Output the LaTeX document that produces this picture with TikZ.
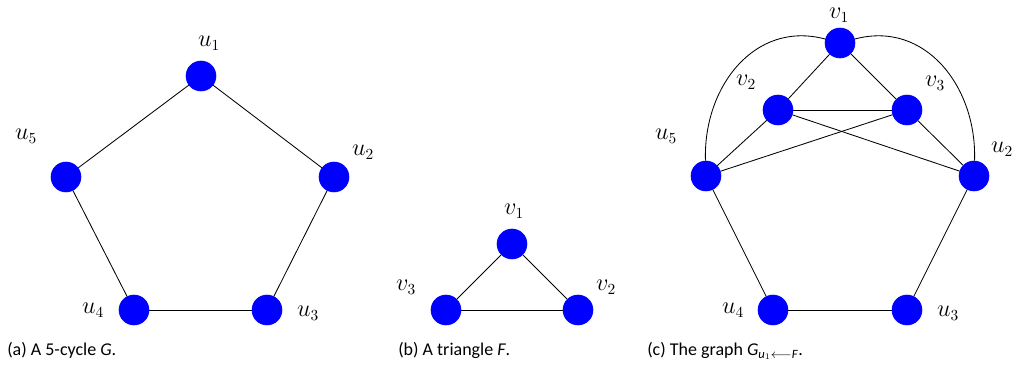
\documentclass[tikz,border=0pt]{standalone}
\usepackage{fontspec}
\setmainfont{Carlito}
\usepackage{amsmath}
\usetikzlibrary{positioning}
\tikzstyle{vertex}  = [draw=blue, fill=blue, circle, minimum size=0.75cm, inner sep=0pt]
\tikzstyle{edge}    = [semithick]
\tikzstyle{vlabel}  = [inner sep=0pt, font=\fontsize{16}{18}\selectfont]
\tikzstyle{caption} = [inner sep=0pt, anchor=base west, font=\fontsize{12.8}{14}\selectfont]

\begin{document}
\begin{tikzpicture}[x=0.025cm, y=-0.025cm]
\useasboundingbox (0,0) rectangle (1012,365);

% (a) 5-cycle
\node[vertex] (a1) at (201,76) {};
\node[vertex] (a2) at (334,177) {};
\node[vertex] (a3) at (267,310) {};
\node[vertex] (a4) at (134,310) {};
\node[vertex] (a5) at (66,177) {};

\node[vlabel] (la1) at (209,43) {$u_1$};
\node[vlabel] (la2) at (363,152) {$u_2$};
\node[vlabel] (la3) at (308,313) {$u_3$};
\node[vlabel] (la4) at (93,310) {$u_4$};
\node[vlabel] (la5) at (26,136) {$u_5$};

\draw[edge] (a1) -- (a2);
\draw[edge] (a2) -- (a3);
\draw[edge] (a3) -- (a4);
\draw[edge] (a4) -- (a5);
\draw[edge] (a5) -- (a1);

% (b) triangle
\node[vertex] (b1) at (512,244) {};
\node[vertex] (b2) at (578,310) {};
\node[vertex] (b3) at (446,310) {};

\node[vlabel] (lb1) at (514,211) {$v_1$};
\node[vlabel] (lb2) at (606,287) {$v_2$};
\node[vlabel] (lb3) at (406,287) {$v_3$};

\draw[edge] (b1) -- (b2);
\draw[edge] (b2) -- (b3);
\draw[edge] (b3) -- (b1);

% (c) substituted graph
\node[vertex] (c1) at (840,43) {};
\node[vertex] (c2) at (778,110) {};
\node[vertex] (c3) at (907,110) {};
\node[vertex] (cu2) at (974,176) {};
\node[vertex] (cu3) at (907,310) {};
\node[vertex] (cu4) at (773,310) {};
\node[vertex] (cu5) at (706,176) {};

\node[vlabel] (lc1) at (839,15) {$v_1$};
\node[vlabel] (lc2) at (746,82) {$v_2$};
\node[vlabel] (lc3) at (935,83) {$v_3$};
\node[vlabel] (lcu2) at (1002,149) {$u_2$};
\node[vlabel] (lcu3) at (948,313) {$u_3$};
\node[vlabel] (lcu4) at (733,310) {$u_4$};
\node[vlabel] (lcu5) at (666,136) {$u_5$};

\draw[edge] (c1) -- (c2);
\draw[edge] (c1) -- (c3);
\draw[edge] (c2) -- (c3);
\draw[edge] (c2) -- (cu5);
\draw[edge] (c2) -- (cu2);
\draw[edge] (c3) -- (cu5);
\draw[edge] (c3) -- (cu2);
\draw[edge] (cu2) -- (cu3);
\draw[edge] (cu3) -- (cu4);
\draw[edge] (cu4) -- (cu5);
\draw[edge] (c1) to[out=165, in=92, looseness=1.1] (cu5);
\draw[edge] (c1) to[out=15, in=88, looseness=1.1] (cu2);

% captions
\node[caption] (capa) at (7,356) {(a) A 5-cycle \textit{G}.};
\node[caption] (capb) at (398,356) {(b) A triangle \textit{F}.};
\node[caption] (capc) at (647,356) {(c) The graph $\textit{G}_{\textit{u}_1\longleftarrow\textit{F}}$.};

\end{tikzpicture}
\end{document}
